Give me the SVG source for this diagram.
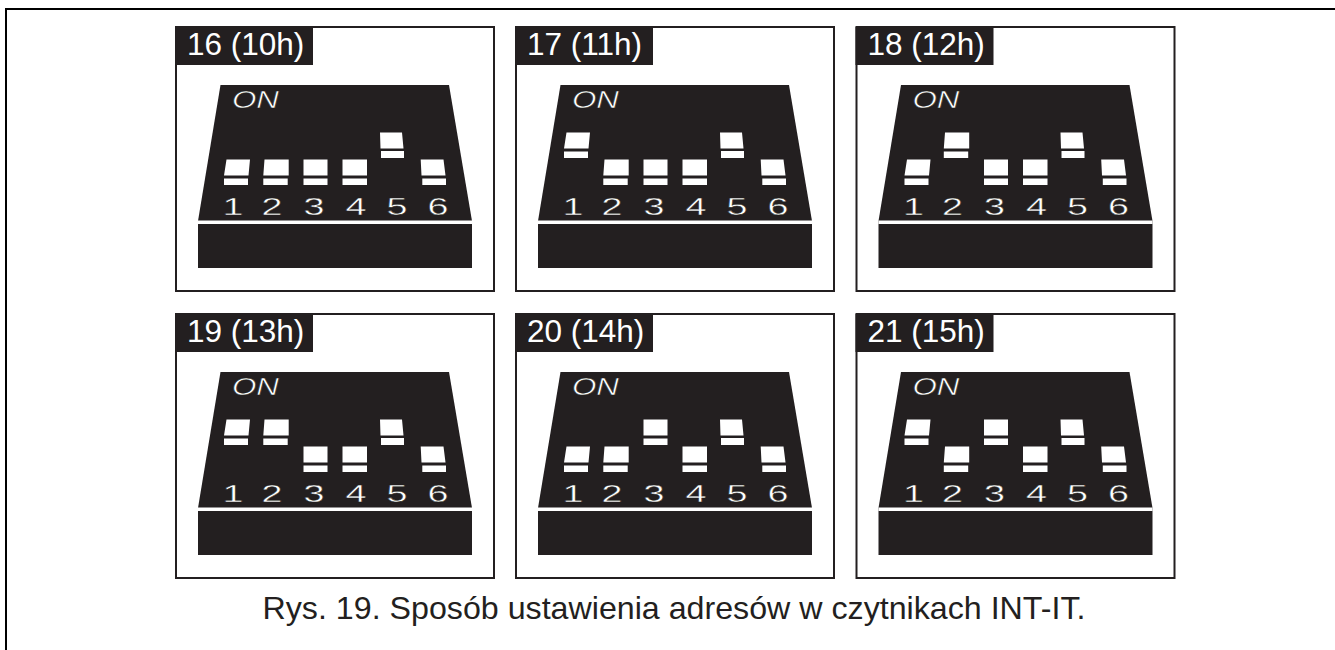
<svg xmlns="http://www.w3.org/2000/svg" width="1335" height="650" viewBox="0 0 1335 650">
<style>
.frame{fill:#fff;stroke:#231f20;stroke-width:2}
.k{fill:#231f20}
.w{fill:#fff}
.title{font:31.500px "Liberation Sans",Arial,sans-serif;fill:#fff}
.on{font:italic 23.500px "Liberation Sans",Arial,sans-serif;fill:#fff;stroke:#231f20;stroke-width:.5}
.num{font:24.500px "Liberation Sans",Arial,sans-serif;fill:#fff;stroke:#231f20;stroke-width:.4;text-anchor:middle}
.cap{font:32.200px "Liberation Sans",Arial,sans-serif;fill:#231f20;text-anchor:middle}
</style>
<defs>
<g id="body">
<rect class="frame" x="176" y="27" width="318" height="264"/>
<path class="k" d="M220.500 85H449L472 221V268H198V221Z"/>
<rect class="w" x="198" y="220.500" width="274" height="3.500"/>
<rect class="k" x="175" y="27" width="138" height="38"/>
<text class="on" x="232" y="108" textLength="47" lengthAdjust="spacingAndGlyphs">ON</text>
<text class="num" x="233" y="215" textLength="21" lengthAdjust="spacingAndGlyphs">1</text>
<text class="num" x="272" y="215" textLength="21" lengthAdjust="spacingAndGlyphs">2</text>
<text class="num" x="314" y="215" textLength="21" lengthAdjust="spacingAndGlyphs">3</text>
<text class="num" x="356" y="215" textLength="21" lengthAdjust="spacingAndGlyphs">4</text>
<text class="num" x="397" y="215" textLength="21" lengthAdjust="spacingAndGlyphs">5</text>
<text class="num" x="438" y="215" textLength="21" lengthAdjust="spacingAndGlyphs">6</text>
</g>
<path id="s1" class="w" d="M226.500 159.500H250L248.500 175.500H224ZM224 178.500H248V185H224Z"/>
<path id="s2" class="w" d="M264.500 159.500H288.700V175.500H263.300ZM263.300 178.500H287.700V185H263.300Z"/>
<path id="s3" class="w" d="M303.500 159.500H327.500V175.500H303.500ZM303.500 178.500H327.500V185H303.500Z"/>
<path id="s4" class="w" d="M342.500 159.500H367V175.500H342.500ZM342.500 178.500H367V185H342.500Z"/>
<path id="s5" class="w" d="M380 159.500H402L403.500 175.500H380.500ZM381 178H404V185H381Z"/>
<path id="s6" class="w" d="M420.700 159.500H443.500L445.500 175.500H421.500ZM422.300 178.500H446V185H422.300Z"/>
</defs>
<rect x="6" y="9" width="1340" height="660" fill="#fff" stroke="#000" stroke-width="2"/>
<g id="connectors"/>
<g id="n16"><use href="#body"/><text class="title" x="187" y="55">16 (10h)</text>
<use href="#s1"/><use href="#s2"/><use href="#s3"/><use href="#s4"/><use href="#s5" y="-27"/><use href="#s6"/></g>
<g id="n17" transform="translate(340 0)"><use href="#body"/><text class="title" x="187" y="55">17 (11h)</text>
<use href="#s1" y="-27"/><use href="#s2"/><use href="#s3"/><use href="#s4"/><use href="#s5" y="-27"/><use href="#s6"/></g>
<g id="n18" transform="translate(680.500 0)"><use href="#body"/><text class="title" x="187" y="55">18 (12h)</text>
<use href="#s1"/><use href="#s2" y="-27"/><use href="#s3"/><use href="#s4"/><use href="#s5" y="-27"/><use href="#s6"/></g>
<g id="n19" transform="translate(0 287)"><use href="#body"/><text class="title" x="187" y="55">19 (13h)</text>
<use href="#s1" y="-27"/><use href="#s2" y="-27"/><use href="#s3"/><use href="#s4"/><use href="#s5" y="-27"/><use href="#s6"/></g>
<g id="n20" transform="translate(340 287)"><use href="#body"/><text class="title" x="187" y="55">20 (14h)</text>
<use href="#s1"/><use href="#s2"/><use href="#s3" y="-27"/><use href="#s4"/><use href="#s5" y="-27"/><use href="#s6"/></g>
<g id="n21" transform="translate(680.500 287)"><use href="#body"/><text class="title" x="187" y="55">21 (15h)</text>
<use href="#s1" y="-27"/><use href="#s2"/><use href="#s3" y="-27"/><use href="#s4"/><use href="#s5" y="-27"/><use href="#s6"/></g>
<text class="cap" x="674" y="619">Rys. 19. Sposób ustawienia adresów w czytnikach INT-IT.</text>
</svg>
